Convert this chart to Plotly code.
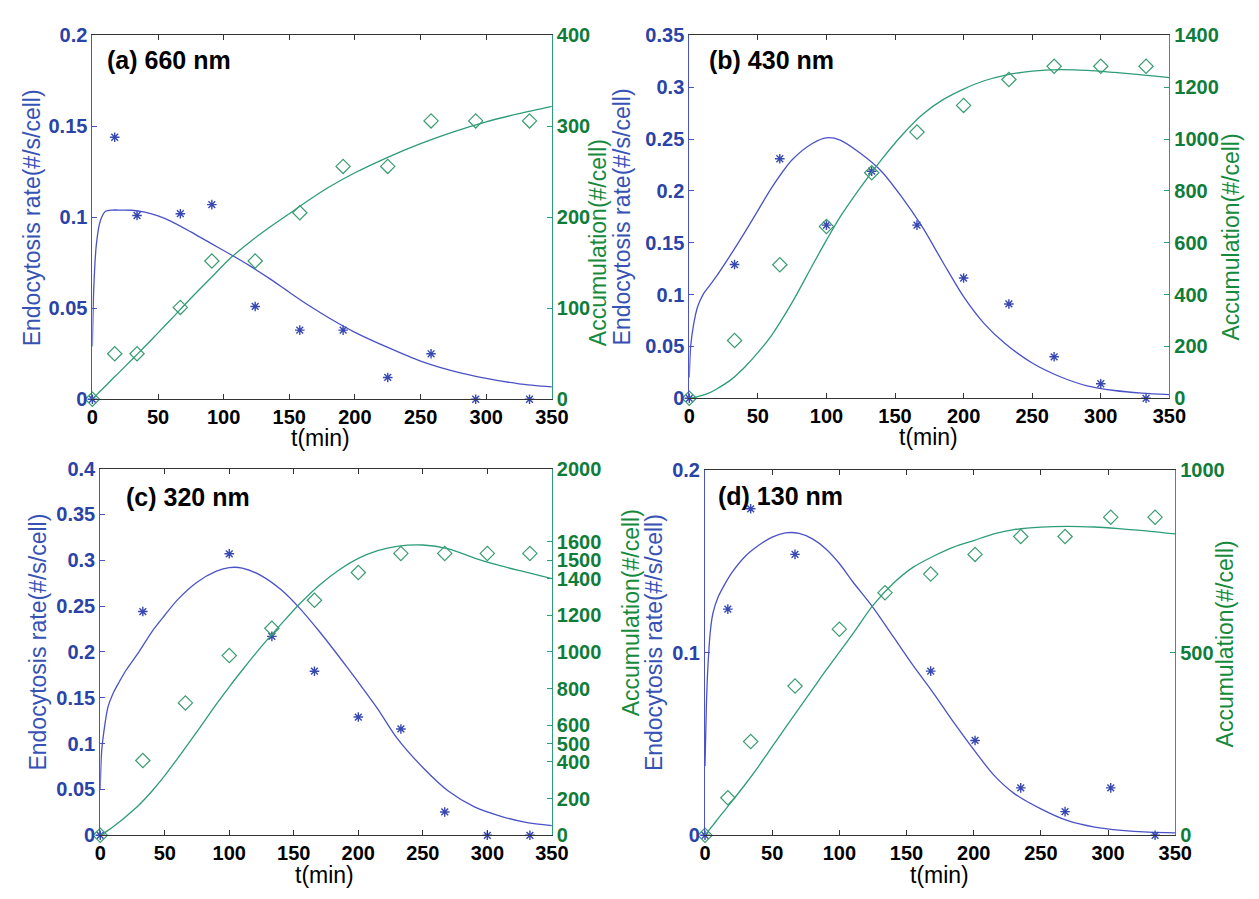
import plotly.graph_objects as go

# ---------------- data ----------------
# (a) 660 nm
T_A_PTS = [0, 17, 34, 67, 91, 124, 158, 191, 225, 258, 292, 333]
RATE_A_PTS = [0, 0.144, 0.101, 0.102, 0.107, 0.051, 0.038, 0.038, 0.012, 0.025, 0, 0]
ACC_A_PTS = [0, 50, 50, 101, 152, 152, 205, 256, 256, 306, 306, 306]
TC_A = [0, 1, 3, 6, 10, 15, 20, 30, 40, 50, 60, 75, 90, 105, 120, 135, 150, 165, 180, 200, 225, 250, 275, 300, 325, 350]
RATE_A_FIT = [0.029, 0.06, 0.085, 0.098, 0.1033, 0.104, 0.104, 0.1039, 0.1028, 0.1008, 0.0978, 0.092, 0.0858,
              0.0797, 0.0733, 0.0663, 0.0588, 0.0515, 0.0448, 0.0368, 0.0285, 0.021, 0.0155, 0.0115, 0.0085, 0.0068]
ACC_A_FIT = [0, 1.5, 4.5, 9, 14.5, 22, 29, 43.5, 58, 73, 88, 111, 133, 155, 173, 189, 204, 219, 233, 249, 266,
             281, 294, 305, 314, 322]

# (b) 430 nm
T_B_PTS = [0, 33, 66, 100, 133, 166, 200, 233, 266, 300, 333]
RATE_B_PTS = [0, 0.129, 0.231, 0.167, 0.219, 0.167, 0.116, 0.091, 0.040, 0.014, 0]
ACC_B_PTS = [0, 223, 515, 663, 870, 1027, 1130, 1230, 1281, 1281, 1281]
TC_B = [0, 1, 3, 6, 10, 15, 20, 30, 40, 50, 60, 75, 90, 100, 110, 125, 140, 155, 170, 185, 200, 215, 230, 250,
        270, 290, 310, 330, 350]
RATE_B_FIT = [0.02, 0.05, 0.07, 0.088, 0.1, 0.109, 0.118, 0.138, 0.159, 0.181, 0.203, 0.23, 0.246, 0.2512, 0.249,
              0.236, 0.219, 0.194, 0.165, 0.131, 0.098, 0.072, 0.053, 0.034, 0.021, 0.012, 0.0075, 0.005, 0.0035]
ACC_B_FIT = [0, 0.5, 2, 6, 12, 22, 36, 70, 118, 176, 243, 370, 515, 610, 700, 815, 920, 1015, 1095, 1152, 1193,
             1225, 1246, 1262, 1268, 1265, 1257, 1248, 1237]

# (c) 320 nm
T_C_RATE_PTS = [0, 33, 100, 133, 166, 200, 233, 267, 300, 333]
RATE_C_PTS = [0, 0.244, 0.307, 0.217, 0.179, 0.129, 0.116, 0.0255, 0, 0]
T_C_ACC_PTS = [0, 33, 66, 100, 133, 166, 200, 233, 267, 300, 333]
ACC_C_PTS = [0, 408, 722, 980, 1129, 1282, 1433, 1537, 1537, 1537, 1537]
TC_C = [0, 1, 3, 6, 10, 15, 20, 30, 40, 50, 60, 75, 90, 100, 110, 125, 140, 155, 170, 185, 200, 215, 230, 250,
        270, 290, 310, 330, 350]
RATE_C_FIT = [0.05, 0.09, 0.115, 0.14, 0.155, 0.168, 0.18, 0.2, 0.222, 0.24, 0.257, 0.276, 0.288, 0.292, 0.2915,
              0.283, 0.268, 0.247, 0.222, 0.195, 0.167, 0.138, 0.106, 0.074, 0.048, 0.031, 0.021, 0.014, 0.0105]
ACC_C_FIT = [0, 4, 13, 27, 47, 74, 103, 165, 240, 325, 420, 565, 715, 810, 900, 1030, 1150, 1265, 1365, 1447,
             1510, 1552, 1576, 1583, 1562, 1512, 1470, 1435, 1400]

# (d) 130 nm
T_D_RATE_PTS = [0, 17, 34, 67, 168, 201, 235, 268, 302, 335]
RATE_D_PTS = [0, 0.124, 0.179, 0.154, 0.090, 0.052, 0.026, 0.013, 0.026, 0]
T_D_ACC_PTS = [0, 17, 34, 67, 100, 134, 168, 201, 235, 268, 302, 335]
ACC_D_PTS = [0, 103, 257, 409, 565, 665, 716, 770, 819, 819, 872, 872]
TC_D = [0, 1, 2, 4, 6, 10, 15, 20, 30, 40, 50, 60, 70, 80, 90, 100, 110, 125, 140, 155, 170, 185, 200, 215, 230,
        250, 270, 290, 310, 330, 350]
RATE_D_FIT = [0.038, 0.07, 0.09, 0.112, 0.122, 0.131, 0.138, 0.144, 0.153, 0.159, 0.1635, 0.1658, 0.1655, 0.1625,
              0.157, 0.149, 0.139, 0.125, 0.109, 0.093, 0.078, 0.062, 0.047, 0.033, 0.023, 0.0145, 0.008, 0.0045,
              0.0027, 0.0017, 0.0013]
ACC_D_FIT = [0, 4.5, 9, 19, 28, 47, 70, 93, 140, 190, 243, 296, 348, 400, 452, 502, 552, 630, 690, 735, 765, 790,
             808, 826, 838, 845, 847, 845, 840, 834, 826]

TITLES = ["(a) 660 nm", "(b) 430 nm", "(c) 320 nm", "(d) 130 nm"]
X_TICKS = [0, 50, 100, 150, 200, 250, 300, 350]
LEFT_TICKS = [
    [0, 0.05, 0.1, 0.15, 0.2],
    [0, 0.05, 0.1, 0.15, 0.2, 0.25, 0.3, 0.35],
    [0, 0.05, 0.1, 0.15, 0.2, 0.25, 0.3, 0.35, 0.4],
    [0, 0.1, 0.2],
]
LEFT_TICKTEXT = [
    ["0", "0.05", "0.1", "0.15", "0.2"],
    ["0", "0.05", "0.1", "0.15", "0.2", "0.25", "0.3", "0.35"],
    ["0", "0.05", "0.1", "0.15", "0.2", "0.25", "0.3", "0.35", "0.4"],
    ["0", "0.1", "0.2"],
]
RIGHT_TICKS = [
    [0, 100, 200, 300, 400],
    [0, 200, 400, 600, 800, 1000, 1200, 1400],
    [0, 200, 400, 500, 600, 800, 1000, 1200, 1400, 1500, 1600, 2000],
    [0, 500, 1000],
]
LEFT_RANGE = [0.2, 0.35, 0.4, 0.2]
RIGHT_RANGE = [400, 1400, 2000, 1000]

# ---------------- layout geometry (pixels) ----------------
W, H = 1259, 899
# left, right, top, bottom of each plot box
BOX = [(88, 556, 25, 398), (696, 1185, 25, 397), (96, 556, 469, 845), (712, 1191, 471, 845)]

BLUE_LINE = "#4a52c6"
BLUE_MARK = "#3848b2"
BLUE_TEXT = "#2a43a6"
BLUE_TITLE = "#3552b4"
GREEN_LINE = "#2e9c78"
GREEN_MARK = "#3a9c70"
GREEN_TEXT = "#107c3a"
GREEN_TITLE = "#168a3c"
AX_BLACK = "#333333"
FONT = "Liberation Sans, Arial, sans-serif"

panels = [
    (T_A_PTS, RATE_A_PTS, T_A_PTS, ACC_A_PTS, TC_A, RATE_A_FIT, ACC_A_FIT),
    (T_B_PTS, RATE_B_PTS, T_B_PTS, ACC_B_PTS, TC_B, RATE_B_FIT, ACC_B_FIT),
    (T_C_RATE_PTS, RATE_C_PTS, T_C_ACC_PTS, ACC_C_PTS, TC_C, RATE_C_FIT, ACC_C_FIT),
    (T_D_RATE_PTS, RATE_D_PTS, T_D_ACC_PTS, ACC_D_PTS, TC_D, RATE_D_FIT, ACC_D_FIT),
]

fig = go.Figure()
layout = {}

for i, (tr, rr, ta, aa, tc, rf, af) in enumerate(panels):
    xn = "x" if i == 0 else f"x{i + 1}"
    yl = "y" if i == 0 else f"y{2 * i + 1}"
    yr = f"y{2 * i + 2}"
    xkey = "xaxis" if i == 0 else f"xaxis{i + 1}"
    ylkey = "yaxis" if i == 0 else f"yaxis{2 * i + 1}"
    yrkey = f"yaxis{2 * i + 2}"
    l, r, t, b = BOX[i]
    xdom = [l / W, r / W]
    ydom = [1 - b / H, 1 - t / H]

    # fitted curves
    fig.add_trace(go.Scatter(x=tc, y=rf, mode="lines", line=dict(color=BLUE_LINE, width=1.3, shape="spline",
                                                                  smoothing=0.8),
                             xaxis=xn, yaxis=yl, showlegend=False, hoverinfo="skip"))
    fig.add_trace(go.Scatter(x=tc, y=af, mode="lines", line=dict(color=GREEN_LINE, width=1.3, shape="spline",
                                                                  smoothing=0.8),
                             xaxis=xn, yaxis=yr, showlegend=False, hoverinfo="skip"))
    # data points
    fig.add_trace(go.Scatter(x=tr, y=rr, mode="markers", cliponaxis=False,
                             marker=dict(symbol="asterisk-open", size=8, color=BLUE_MARK,
                                         line=dict(color=BLUE_MARK, width=1.4)),
                             xaxis=xn, yaxis=yl, showlegend=False))
    fig.add_trace(go.Scatter(x=ta, y=aa, mode="markers", cliponaxis=False,
                             marker=dict(symbol="diamond-open", size=11, color=GREEN_MARK,
                                         line=dict(color=GREEN_MARK, width=1.2)),
                             xaxis=xn, yaxis=yr, showlegend=False))

    layout[xkey] = dict(domain=xdom, anchor=yl, range=[0, 350], tickvals=X_TICKS,
                        ticks="inside", ticklen=5, tickcolor=AX_BLACK, showline=True, linecolor=AX_BLACK,
                        linewidth=1, mirror="ticks", showgrid=False, zeroline=False,
                        tickfont=dict(family=FONT, size=20, color="black", weight="bold"))
    layout[ylkey] = dict(domain=ydom, anchor=xn, range=[0, LEFT_RANGE[i]], tickvals=LEFT_TICKS[i],
                         ticktext=LEFT_TICKTEXT[i], ticks="inside", ticklen=5, tickcolor=BLUE_LINE,
                         showline=True, linecolor=BLUE_LINE, linewidth=1, showgrid=False, zeroline=False,
                         tickfont=dict(family=FONT, size=20, color=BLUE_TEXT, weight="bold"))
    layout[yrkey] = dict(overlaying=yl, side="right", anchor=xn, range=[0, RIGHT_RANGE[i]],
                         tickvals=RIGHT_TICKS[i], ticks="inside", ticklen=5, tickcolor=GREEN_LINE,
                         showline=True, linecolor=GREEN_LINE, linewidth=1, showgrid=False, zeroline=False,
                         tickfont=dict(family=FONT, size=20, color=GREEN_TEXT, weight="bold"))


def px(x, y):
    return x / W, 1 - y / H


annotations = []
# panel titles
for (tx, ty), txt in zip([(101, 50), (714, 50), (120, 498), (723, 497)], TITLES):
    ax_, ay_ = px(tx, ty)
    annotations.append(dict(x=ax_, y=ay_, xref="paper", yref="paper", text=txt, showarrow=False,
                            xanchor="left", yanchor="middle",
                            font=dict(family=FONT, size=25, color="black", weight="bold")))
# x axis titles
for (tx, ty) in [(320, 438), (940, 437), (324, 886), (951, 886)]:
    ax_, ay_ = px(tx, ty)
    annotations.append(dict(x=ax_, y=ay_, xref="paper", yref="paper", text="t(min)", showarrow=False,
                            xanchor="center", yanchor="middle",
                            font=dict(family=FONT, size=23, color="black")))
# y axis titles
YT = [
    ((26, 212), "Endocytosis rate(#/s/cell)", BLUE_TITLE),
    ((603, 237), "Accumulation(#/cell)", GREEN_TITLE),
    ((627, 211), "Endocytosis rate(#/s/cell)", BLUE_TITLE),
    ((1248, 232), "Accumulation(#/cell)", GREEN_TITLE),
    ((33, 647), "Endocytosis rate(#/s/cell)", BLUE_TITLE),
    ((637, 617), "Accumulation(#/cell)", GREEN_TITLE),
    ((660, 647), "Endocytosis rate(#/s/cell)", BLUE_TITLE),
    ((1242, 649), "Accumulation(#/cell)", GREEN_TITLE),
]
for (tx, ty), txt, col in YT:
    ax_, ay_ = px(tx, ty)
    annotations.append(dict(x=ax_, y=ay_, xref="paper", yref="paper", text=txt, showarrow=False,
                            textangle=-90, xanchor="center", yanchor="middle",
                            font=dict(family=FONT, size=23, color=col)))

fig.update_layout(width=W, height=H, margin=dict(l=0, r=0, t=0, b=0, pad=0),
                  paper_bgcolor="white", plot_bgcolor="white", annotations=annotations, **layout)

fig.write_html("out.html", config={"displayModeBar": False},
               post_script="document.body.style.margin='0';")
